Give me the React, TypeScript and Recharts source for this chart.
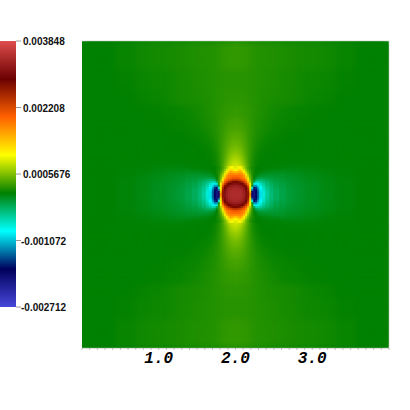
import { Bar, BarChart, CartesianGrid, ReferenceLine, Scatter, ScatterChart, XAxis, YAxis } from 'recharts';

// scale of the colour bar, values in real units
const scaleTicks = [-0.002712, -0.001072, 0.0005676, 0.002208, 0.003848];
const scaleLabels = ['-0.002712', '-0.001072', '0.0005676', '0.002208', '0.003848'];
const scaleMin = -0.002712;
const scaleMax = 0.003848;
const scaleColors = ['#4747db', '#00005c', '#00ffff', '#008000', '#ffff00', '#ff6100', '#6b0000', '#e04d4d'];

// cell edges, as distance from the centre (2.0, 2.0) of the plot
const xEdges = [0, .026, .052, .078, .104, .13, .156, .182, .208, .234, .26, .286, .312, .352, .391, .443, .495, .573, .651, .782, .912, 1.107, 1.303, 1.564, 2];
const yEdges = [0, .026, .052, .078, .104, .13, .156, .182, .208, .234, .26, .286, .312, .339, .365, .404, .456, .521, .599, .704, .834, .99, 1.173, 1.368, 1.629, 2];

// field values in units of 1e-5, one quadrant, rows going away from the centre
const field = [
  [345, 345, 345, 340, 330, 312, 270, 170, -190, -205, -180, -140, -95, -70, -48, -34, -24, -17, -11, -6, -1, 3, 7, 10],
  [345, 345, 343, 338, 328, 308, 265, 140, -188, -202, -178, -138, -94, -68, -47, -33, -24, -17, -11, -6, -1, 3, 7, 10],
  [343, 342, 340, 335, 322, 302, 255, 115, -130, -195, -172, -130, -90, -64, -45, -32, -23, -16, -10, -5, -1, 3, 7, 10],
  [338, 337, 333, 328, 315, 292, 240, 100, -70, -172, -158, -115, -85, -60, -42, -30, -21, -15, -10, -5, -1, 4, 7, 10],
  [328, 326, 322, 312, 298, 270, 210, 105, 0, -120, -125, -95, -72, -52, -37, -27, -19, -14, -9, -5, -1, 4, 7, 10],
  [312, 308, 300, 290, 265, 230, 175, 100, 25, -70, -90, -78, -62, -45, -33, -24, -17, -13, -8, -4, 0, 4, 7, 10],
  [285, 280, 268, 250, 225, 195, 140, 75, 30, -20, -50, -52, -45, -35, -27, -20, -14, -11, -7, -4, 0, 4, 7, 10],
  [235, 232, 222, 210, 198, 168, 115, 60, 28, 0, -20, -28, -28, -25, -20, -15, -11, -9, -6, -3, 1, 4, 7, 10],
  [205, 203, 196, 186, 175, 140, 90, 50, 25, 8, -4, -10, -13, -14, -13, -11, -9, -7, -5, -2, 1, 5, 8, 10],
  [190, 190, 188, 180, 165, 125, 75, 44, 24, 12, 4, -1, -4, -6, -7, -7, -6, -5, -3, -1, 2, 5, 8, 10],
  [170, 172, 175, 165, 138, 95, 60, 38, 22, 14, 8, 4, 1, -1, -2, -3, -3, -3, -2, 0, 3, 6, 8, 10],
  [140, 150, 158, 140, 108, 75, 50, 32, 21, 15, 11, 8, 6, 4, 3, 2, 1, 0, 0, 2, 4, 7, 8, 10],
  [108, 122, 130, 115, 88, 60, 42, 28, 19, 15, 11, 10, 9, 7, 6, 5, 4, 3, 3, 4, 5, 7, 9, 10],
  [92, 100, 108, 90, 68, 50, 36, 25, 18, 14, 11, 10, 10, 9, 9, 8, 8, 7, 7, 7, 8, 9, 10, 10],
  [90, 90, 86, 76, 60, 46, 33, 24, 18, 14, 12, 11, 10, 10, 10, 9, 9, 9, 8, 8, 8, 9, 9, 10],
  [84, 83, 78, 68, 56, 44, 33, 25, 19, 15, 13, 11, 10, 10, 10, 10, 10, 10, 9, 9, 9, 9, 9, 10],
  [74, 73, 68, 60, 51, 42, 33, 26, 21, 17, 14, 12, 11, 10, 10, 10, 10, 10, 10, 10, 10, 10, 10, 10],
  [63, 62, 58, 53, 46, 39, 33, 27, 23, 19, 16, 14, 12, 11, 10, 10, 10, 10, 10, 10, 10, 10, 10, 10],
  [53, 52, 50, 46, 42, 37, 32, 28, 24, 21, 18, 16, 14, 13, 12, 11, 10, 10, 10, 10, 10, 10, 10, 10],
  [44, 43, 42, 40, 37, 34, 31, 28, 25, 23, 21, 19, 17, 16, 14, 13, 12, 11, 10, 10, 10, 10, 10, 10],
  [36, 36, 35, 34, 33, 31, 29, 27, 25, 24, 22, 21, 20, 18, 17, 15, 14, 13, 12, 11, 10, 10, 10, 10],
  [30, 30, 29, 29, 28, 28, 27, 26, 25, 24, 23, 22, 21, 20, 19, 18, 16, 15, 13, 12, 11, 10, 10, 10],
  [26, 26, 26, 26, 26, 25, 25, 25, 24, 24, 23, 23, 22, 21, 20, 20, 19, 18, 18, 16, 14, 12, 10, 10],
  [25, 25, 25, 25, 25, 25, 24, 24, 24, 24, 23, 23, 22, 22, 21, 21, 20, 19, 18, 16, 15, 14, 11, 10],
  [29, 29, 28, 28, 28, 27, 27, 26, 25, 24, 24, 23, 23, 22, 22, 22, 21, 20, 19, 18, 17, 16, 13, 10],
];

const xTicks = Array.from({ length: 41 }, (_, i) => i / 10);
const yTicks = Array.from({ length: 21 }, (_, i) => i / 5);
const xLabels = [1, 2, 3];

const PLOT = 307;
const PX_PER_UNIT = PLOT / 4;

function hexToRgb(hex: string) {
  return [1, 3, 5].map((i) => parseInt(hex.slice(i, i + 2), 16));
}

function colorFor(value: number) {
  const t = ((value - scaleMin) / (scaleMax - scaleMin)) * (scaleColors.length - 1);
  const i = Math.max(0, Math.min(scaleColors.length - 2, Math.floor(t)));
  const a = hexToRgb(scaleColors[i]);
  const b = hexToRgb(scaleColors[i + 1]);
  const f = Math.max(0, Math.min(1, t - i));
  return `rgb(${a.map((c, k) => Math.round(c + (b[k] - c) * f)).join(',')})`;
}

// every quadrant uses the same table, the picture is mirrored around the centre
const cells: { x: number; y: number; w: number; h: number; value: number }[] = [];
field.forEach((row, j) => {
  row.forEach((v, i) => {
    const dx = (xEdges[i] + xEdges[i + 1]) / 2;
    const dy = (yEdges[j] + yEdges[j + 1]) / 2;
    const w = xEdges[i + 1] - xEdges[i];
    const h = yEdges[j + 1] - yEdges[j];
    for (const sx of [-1, 1]) {
      for (const sy of [-1, 1]) {
        cells.push({ x: 2 + sx * dx, y: 2 + sy * dy, w, h, value: v * 1e-5 });
      }
    }
  });
});
// the middle is drawn again on top with less blur, it has the sharp detail
const coreCells = cells.filter((c) => Math.abs(c.x - 2) < 0.65 && Math.abs(c.y - 2) < 0.37);

function HeatCell(props: any) {
  const { cx, cy, payload } = props;
  const w = payload.w * PX_PER_UNIT + 0.5;
  const h = payload.h * PX_PER_UNIT + 0.5;
  return <rect x={cx - w / 2} y={cy - h / 2} width={w} height={h} fill={colorFor(payload.value)} />;
}

function XTick(props: any) {
  const { x, y, payload } = props;
  if (!xLabels.includes(payload.value)) return <g />;
  return (
    <text x={x} y={y + 11} textAnchor="middle" fontFamily="Liberation Mono" fontWeight="bold" fontStyle="italic" fontSize={16} fill="#000">
      {payload.value.toFixed(1)}
    </text>
  );
}

function ScaleTick(props: any) {
  const { x, y, index } = props;
  const label = scaleLabels[index];
  return (
    <text x={label[0] === '-' ? x - 2 : x} y={y + 4} fontFamily="Liberation Sans" fontWeight="bold" fontSize={10} fill="#111">
      {label}
    </text>
  );
}

export default function App() {
  return (
    <div style={{ position: 'absolute', left: 0, top: 0, width: 410, height: 410, background: '#fff' }}>
      <style>{`.heat { filter: blur(3px); } .heat-core { filter: blur(0.7px); }`}</style>
      <div style={{ position: 'absolute', left: 0, top: 0 }}>
        <ScatterChart width={410} height={410} margin={{ left: 82, right: 21, top: 41, bottom: 32 }}>
          <CartesianGrid horizontal={false} vertical={false} fill="#008000" />
          <XAxis
            type="number"
            dataKey="x"
            domain={[0, 4]}
            ticks={xTicks}
            interval={0}
            height={30}
            allowDataOverflow
            tick={<XTick />}
            tickSize={2}
            stroke="#bbb"
          />
          <YAxis
            type="number"
            dataKey="y"
            domain={[0, 4]}
            ticks={yTicks}
            interval={0}
            width={0}
            allowDataOverflow
            tick={false}
            tickSize={2}
            stroke="#bbb"
          />
          <Scatter className="heat" data={cells} shape={<HeatCell />} isAnimationActive={false} />
          <Scatter className="heat-core" data={coreCells} shape={<HeatCell />} isAnimationActive={false} />
          <ReferenceLine y={4} stroke="#ddd" />
          <ReferenceLine x={4} stroke="#ddd" />
        </ScatterChart>
      </div>
      <div style={{ position: 'absolute', left: 0, top: 0 }}>
        <BarChart
          width={82}
          height={410}
          data={[{ name: 'scale', range: [scaleMin, scaleMax] }]}
          margin={{ left: 0, right: 0, top: 41, bottom: 103 }}
          barCategoryGap={0}
        >
          <defs>
            <linearGradient id="scaleFill" x1="0" y1="1" x2="0" y2="0">
              {scaleColors.map((c, i) => (
                <stop key={c} offset={i / (scaleColors.length - 1)} stopColor={c} />
              ))}
            </linearGradient>
          </defs>
          <XAxis dataKey="name" hide />
          <YAxis
            orientation="right"
            width={66}
            domain={[scaleMin, scaleMax]}
            ticks={scaleTicks}
            interval={0}
            tick={<ScaleTick />}
            tickSize={5}
            tickMargin={2}
            axisLine={false}
            stroke="#999"
          />
          <Bar dataKey="range" fill="url(#scaleFill)" isAnimationActive={false} />
        </BarChart>
      </div>
    </div>
  );
}
